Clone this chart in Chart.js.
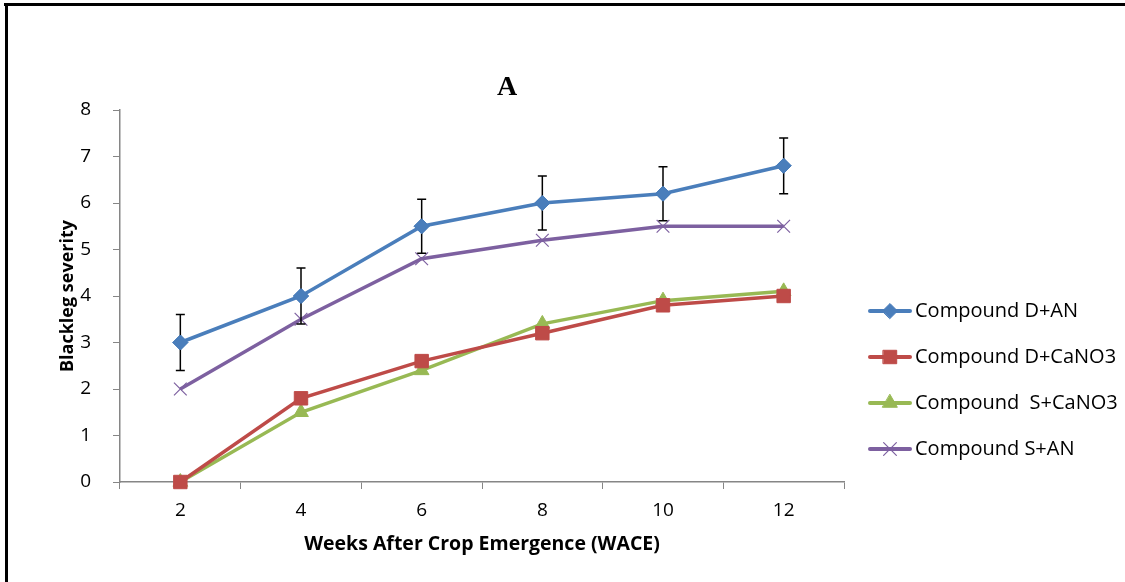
<!DOCTYPE html>
<html>
<head>
<meta charset="utf-8">
<script src="https://cdn.jsdelivr.net/npm/chart.js@4"></script>
<style>
html,body{margin:0;padding:0;background:#fff;}
#wrap{position:relative;width:1125px;height:582px;}
canvas{display:block;}
</style>
</head>
<body>
<div id="wrap"><canvas id="c" width="1125" height="582"></canvas></div>
<script>
const weeks = ['2', '4', '6', '8', '10', '12'];
const dAN = [3.0, 4.0, 5.5, 6.0, 6.2, 6.8];
const dAN_err = [0.6, 0.6, 0.58, 0.58, 0.58, 0.6];
const dCa = [0.0, 1.8, 2.6, 3.2, 3.8, 4.0];
const sCa = [0.0, 1.5, 2.4, 3.4, 3.9, 4.1];
const sAN = [2.0, 3.5, 4.8, 5.2, 5.5, 5.5];
const seriesNames = ['Compound D+AN', 'Compound D+CaNO3', 'Compound  S+CaNO3', 'Compound S+AN'];
const yTicks = [0, 1, 2, 3, 4, 5, 6, 7, 8];

const FONT = '"Open Sans", "Liberation Sans", sans-serif';
const colors = ['#4A7EBB', '#BE4B48', '#98B954', '#7D60A0'];
const styles = ['rectRot', 'rect', 'triangle', 'crossRot'];
const radii = [7.5, 9.5, 8.5, 9];
const bw = [1, 1, 1, 1.2];

const errorBars = {
  id: 'errorBars',
  afterDatasetsDraw(chart) {
    const ctx = chart.ctx;
    const meta = chart.getDatasetMeta(0);
    const y = chart.scales.y;
    ctx.save();
    ctx.strokeStyle = '#000';
    ctx.lineWidth = 1.5;
    meta.data.forEach((pt, i) => {
      const x = pt.x;
      const top = y.getPixelForValue(dAN[i] + dAN_err[i]);
      const bot = y.getPixelForValue(dAN[i] - dAN_err[i]);
      ctx.beginPath();
      ctx.moveTo(x, top); ctx.lineTo(x, bot);
      ctx.moveTo(x - 4.5, top); ctx.lineTo(x + 4.5, top);
      ctx.moveTo(x - 4.5, bot); ctx.lineTo(x + 4.5, bot);
      ctx.stroke();
    });
    ctx.restore();
    meta.data.forEach(pt => pt.draw(ctx, chart.chartArea));
  }
};

const extras = {
  id: 'extras',
  afterDraw(chart) {
    const ctx = chart.ctx;
    ctx.save();
    ctx.fillStyle = '#000';
    ctx.fillRect(4, 3, 1121, 3);
    ctx.fillRect(5, 3, 3, 579);
    ctx.font = 'bold 28px "Liberation Serif", "DejaVu Serif", serif';
    ctx.textAlign = 'center';
    ctx.textBaseline = 'alphabetic';
    ctx.fillText('A', 507, 95);
    const ys = [311, 357, 403, 449];
    ctx.font = '20px ' + FONT;
    ctx.textAlign = 'left';
    ctx.textBaseline = 'middle';
    chart.data.datasets.forEach((ds, i) => {
      const yy = ys[i];
      ctx.strokeStyle = colors[i];
      ctx.lineWidth = 4;
      ctx.lineCap = 'round';
      ctx.beginPath();
      ctx.moveTo(870, yy); ctx.lineTo(910, yy);
      ctx.stroke();
      ctx.fillStyle = colors[i];
      ctx.strokeStyle = colors[i];
      ctx.lineWidth = bw[i];
      Chart.helpers.drawPoint(ctx, {pointStyle: styles[i], radius: radii[i], borderWidth: bw[i], rotation: 0}, 890, yy);
      ctx.fillStyle = '#000';
      ctx.fillText(ds.label, 915, yy);
    });
    ctx.restore();
  }
};

const allData = [dAN, dCa, sCa, sAN];
const datasets = allData.map((d, i) => ({
  label: seriesNames[i],
  data: d,
  borderColor: colors[i],
  backgroundColor: colors[i],
  pointBackgroundColor: colors[i],
  pointBorderColor: colors[i],
  pointStyle: styles[i],
  pointRadius: radii[i],
  pointBorderWidth: bw[i],
  borderWidth: 3.5,
  tension: 0,
  clip: false
}));

new Chart(document.getElementById('c'), {
  type: 'line',
  data: { labels: weeks, datasets: datasets },
  options: {
    responsive: false,
    animation: false,
    devicePixelRatio: 1,
    layout: { padding: { left: 57, top: 110, right: 281, bottom: 20 } },
    plugins: { legend: { display: false }, tooltip: { enabled: false }, title: { display: false } },
    scales: {
      x: {
        type: 'category',
        offset: true,
        grid: { offset: true, drawOnChartArea: false, drawTicks: true, tickLength: 7, color: '#868686', lineWidth: 1 },
        border: { color: '#868686', width: 1.5 },
        ticks: { color: '#000', font: { family: FONT, size: 19 }, padding: 10, maxRotation: 0 },
        title: { display: true, text: 'Weeks After Crop Emergence (WACE)', color: '#000',
                 font: { family: FONT, size: 19.5, weight: 'bold' }, padding: { top: 0, bottom: 6 } },
        afterFit(s) { s.height = 80; }
      },
      y: {
        min: 0, max: 8,
        afterBuildTicks(s) { s.ticks = yTicks.map(v => ({ value: v })); },
        grid: { drawOnChartArea: false, drawTicks: true, tickLength: 7, color: '#868686', lineWidth: 1 },
        border: { color: '#868686', width: 1.5 },
        ticks: { color: '#000', font: { family: FONT, size: 19 }, padding: 22 },
        title: { display: true, text: 'Blackleg severity', color: '#000',
                 font: { family: FONT, size: 18, weight: 'bold' }, padding: { top: 0, bottom: 0 } },
        afterFit(s) { s.width = 63; }
      }
    }
  },
  plugins: [errorBars, extras]
});
</script>
</body>
</html>
